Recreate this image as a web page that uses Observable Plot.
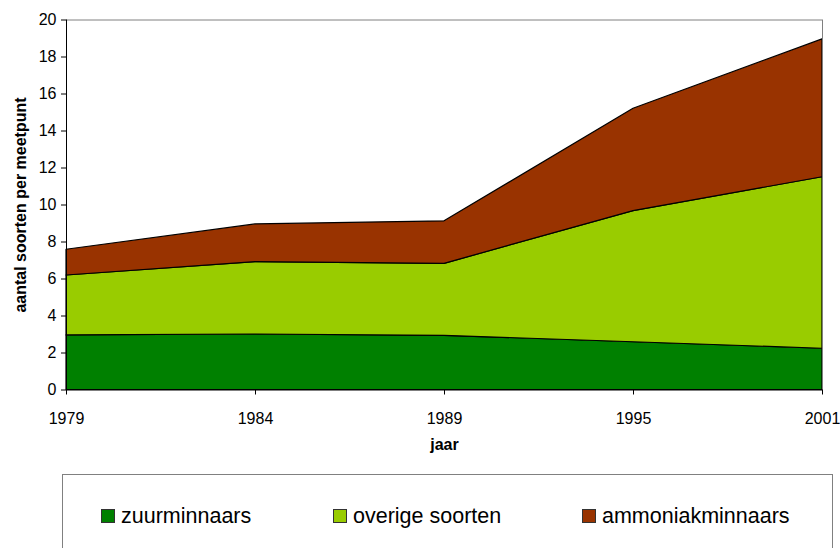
<!DOCTYPE html>
<html>
<head>
<meta charset="utf-8">
<script src="https://cdn.jsdelivr.net/npm/d3@7"></script>
<script src="https://cdn.jsdelivr.net/npm/@observablehq/plot@0.6"></script>
<style>
  html, body { margin: 0; padding: 0; background: #fff; }
  #wrap { position: relative; width: 840px; height: 548px; overflow: hidden; font-family: "Liberation Sans", Arial, sans-serif; }
  #chart svg { display: block; overflow: visible; }
  #chart [aria-label="y-axis label"] text, #chart [aria-label="x-axis label"] text { font-weight: bold; font-size: 16px; }
  #legend { position: absolute; left: 62px; top: 474px; width: 771px; height: 100px; border: 1px solid #808080; box-sizing: border-box; }
  .item { position: absolute; top: 29px; font-size: 21.5px; color: #000; line-height: 24px; white-space: nowrap; }
  .sw { display: inline-block; width: 12px; height: 12px; border: 1px solid #333; vertical-align: 0px; margin-right: 6px; }
</style>
</head>
<body>
<div id="wrap">
  <div id="chart"></div>
  <div id="legend"></div>
</div>
<script>
const years = ["1979", "1984", "1989", "1995", "2001"];
const seriesNames = ["zuurminnaars", "overige soorten", "ammoniakminnaars"];
const seriesColors = ["#008000", "#99CC00", "#993300"];
const zuurminnaars = [2.95, 3.0, 2.93, 2.58, 2.23];
const overigeSoorten = [3.24, 3.91, 3.89, 7.09, 9.27];
const ammoniakminnaars = [1.39, 2.04, 2.30, 5.53, 7.45];
const yTicks = [0, 2, 4, 6, 8, 10, 12, 14, 16, 18, 20];

const seriesValues = [zuurminnaars, overigeSoorten, ammoniakminnaars];
const data = [];
seriesNames.forEach((s, i) => {
  years.forEach((yr, j) => data.push({ year: yr, series: s, value: seriesValues[i][j] }));
});

const chart = Plot.plot({
  width: 840,
  height: 460,
  marginLeft: 66,
  marginRight: 18,
  marginTop: 19.5,
  marginBottom: 70.5,
  style: { fontFamily: "'Liberation Sans', Arial, sans-serif", fontSize: "16px", color: "#000", background: "#fff", overflow: "visible" },
  x: { type: "point", domain: years, padding: 0 },
  y: { domain: [0, 20] },
  color: { domain: seriesNames, range: seriesColors },
  marks: [
    Plot.areaY(data, { x: "year", y: "value", fill: "series", z: "series", order: seriesNames, stroke: "#000", strokeWidth: 1.2 }),
    Plot.ruleY([20], { stroke: "#808080" }),
    Plot.ruleX([years[years.length - 1]], { stroke: "#808080" }),
    Plot.ruleY([0], { stroke: "#000" }),
    Plot.ruleX([years[0]], { stroke: "#000" }),
    Plot.axisY({ ticks: yTicks, tickSize: 5, tickPadding: 5, label: "aantal soorten per meetpunt", labelAnchor: "center", labelArrow: "none", labelOffset: 52 }),
    Plot.axisX({ tickSize: 5, tickPadding: 18, label: "jaar", labelAnchor: "center", labelArrow: "none", labelOffset: 60 })
  ]
});
document.getElementById("chart").appendChild(chart);

const legend = document.getElementById("legend");
const lefts = [38, 270, 519];
seriesNames.forEach((s, i) => {
  const d = document.createElement("div");
  d.className = "item";
  d.style.left = lefts[i] + "px";
  d.innerHTML = `<span class="sw" style="background:${seriesColors[i]}"></span>${s}`;
  legend.appendChild(d);
});
</script>
</body>
</html>
